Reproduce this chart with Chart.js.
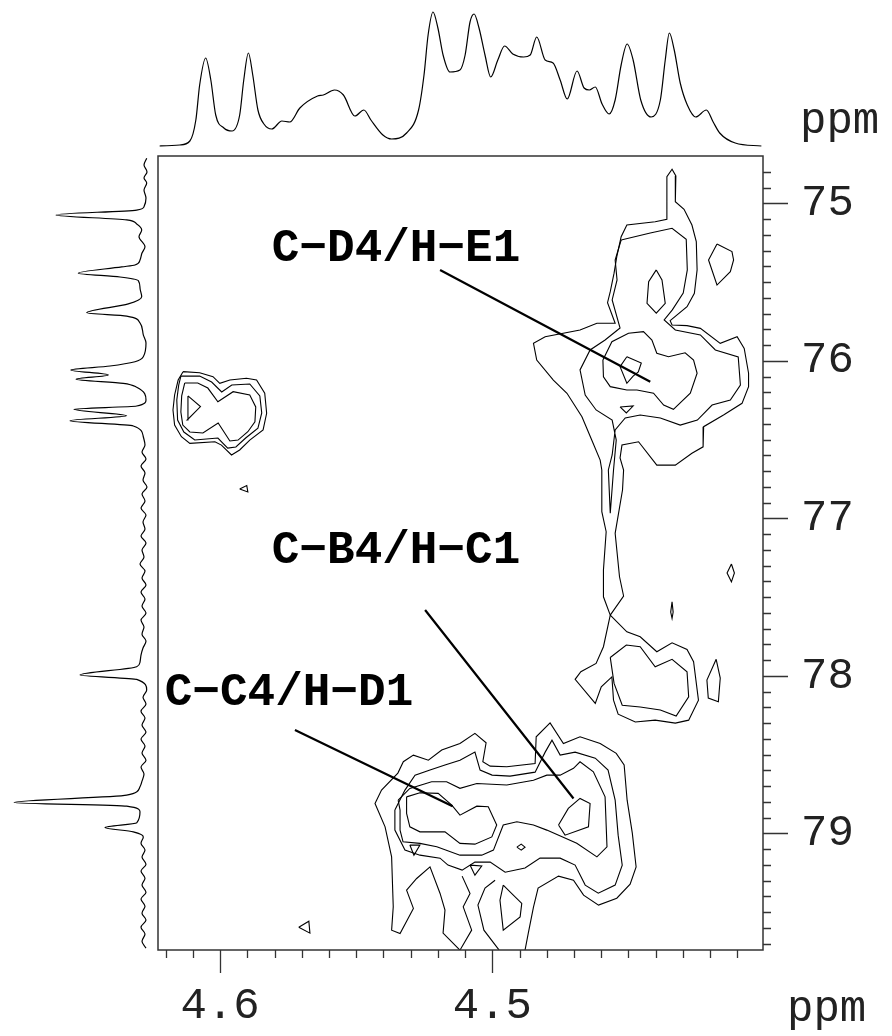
<!DOCTYPE html>
<html>
<head>
<meta charset="utf-8">
<script src="https://cdn.jsdelivr.net/npm/chart.js@4.4.0/dist/chart.umd.min.js"></script>
<style>
  html, body { margin: 0; padding: 0; background: #fff; }
  #wrap { position: relative; width: 892px; height: 1036px; }
  #wrap canvas { position: absolute; }
</style>
</head>
<body>
<div id="wrap">
  <canvas id="main" width="892" height="1036" style="left:0;top:0;width:892px;height:1036px"></canvas>
  <canvas id="top" width="605" height="156" style="left:158px;top:0;width:605px;height:156px"></canvas>
  <canvas id="side" width="158" height="794" style="left:0;top:156px;width:158px;height:794px"></canvas>
</div>
<script>
// 1H projection (top trace): chemical shift and intensity
const topPpm = [4.6222,4.6148,4.6111,4.6089,4.6075,4.6053,4.6034,4.6016,4.5986,4.5956,4.5928,4.5913,4.5896,4.5880,4.5861,4.5839,4.5810,4.5773,4.5744,4.5707,4.5642,4.5621,4.5580,4.5547,4.5505,4.5472,4.5446,4.5402,4.5370,4.5315,4.5271,4.5251,4.5236,4.5218,4.5200,4.5181,4.5156,4.5119,4.5100,4.5082,4.5067,4.5049,4.5027,4.5006,4.4980,4.4955,4.4925,4.4885,4.4861,4.4837,4.4806,4.4777,4.4751,4.4725,4.4689,4.4663,4.4644,4.4622,4.4597,4.4571,4.4549,4.4527,4.4505,4.4483,4.4455,4.4417,4.4383,4.4365,4.4350,4.4332,4.4310,4.4284,4.4253,4.4214,4.4189,4.4165,4.4108,4.4012];
const topIntensity = [0,1,5,26,61,88,66,31,18,15,31,66,93,71,36,22,17,25,24,38,50,51,56,51,30,36,26,11,7,13,36,71,111,134,118,91,74,76,91,124,132,118,91,69,86,100,92,89,91,109,86,83,66,47,75,58,56,59,42,32,46,81,102,86,46,29,46,86,113,96,63,41,29,36,24,13,3,0];

// 13C projection (left trace)
const sidePpm = [74.714,74.757,74.801,74.839,74.871,74.916,74.966,75.022,75.043,75.074,75.106,75.131,75.170,75.212,75.276,75.316,75.360,75.392,75.404,75.444,75.468,75.491,75.538,75.593,75.639,75.695,75.716,75.760,75.836,75.887,75.974,76.006,76.033,76.058,76.090,76.117,76.143,76.168,76.249,76.287,76.308,76.349,76.380,76.414,76.482,76.535,76.579,76.623,76.668,76.712,76.757,76.801,76.846,76.890,76.935,76.979,77.023,77.068,77.112,77.157,77.201,77.246,77.290,77.335,77.379,77.423,77.468,77.512,77.557,77.601,77.646,77.690,77.735,77.779,77.823,77.868,77.912,77.942,77.995,78.022,78.090,78.135,78.179,78.224,78.268,78.312,78.357,78.401,78.445,78.490,78.535,78.579,78.623,78.668,78.704,78.757,78.803,78.827,78.863,78.933,78.962,78.990,79.022,79.062,79.106,79.150,79.195,79.239,79.284,79.328,79.373,79.417,79.462,79.506,79.550,79.595,79.639,79.684,79.728];
const sideIntensity = [-0.7,2,-1,2,-0.7,2,0,2,9.3,90,19.3,9.3,4.3,7,1,4,6,11,24.3,67.7,26,7.7,6,4.3,17.7,59.3,19.3,6,2.7,0,2.7,11,36,75.3,37.7,70,22.7,9.3,0,9.3,72,19.3,76,12.7,2.7,1,4,0,5,1,3,-1,4,1,5,0,3,1,5,0,4,2,6,1,4,0,5,1,4,0,5,2,4,0,3,5,6,9.3,66,9.3,-0.7,3,0,5,1,4,0,5,1,4,0,5,2,4,6,19.3,132,19.3,6,9.3,41,12.7,2.7,5,1,4,0,5,1,4,0,5,1,4,0,5,1,4,0];

// axis labelling
const xTickLabels = ['4.6', '4.5'];
const yTickLabels = ['75', '76', '77', '78', '79'];
const unitLabel = 'ppm';

// cross-peak assignments: text anchor, pointer start, pointer end (ppm H, ppm C)
const peakNames = ['C\u2212D4/H\u2212E1', 'C\u2212B4/H\u2212C1', 'C\u2212C4/H\u2212D1'];
const peakNameAt = [[4.5810, 75.366], [4.5810, 77.284], [4.6203, 78.185]];
const pointerFrom = [[4.5192, 75.424], [4.5247, 77.582], [4.5725, 78.344]];
const pointerTo = [[4.4420, 76.133], [4.4702, 78.778], [4.5146, 78.827]];

// contour polygons, [1H ppm, 13C ppm]
const upperOuter = [[4.4567,77.614],[4.4592,77.498],[4.4592,77.328],[4.4582,77.085],[4.4598,76.958],[4.4598,76.693],[4.4604,76.630],[4.4635,76.503],[4.4671,76.355],[4.4726,76.206],[4.4776,76.122],[4.4837,75.995],[4.4849,75.889],[4.4806,75.847],[4.4678,75.804],[4.4616,75.762],[4.4549,75.762],[4.4577,75.631],[4.4567,75.561],[4.4553,75.444],[4.4543,75.339],[4.4527,75.212],[4.4506,75.138],[4.4402,75.117],[4.4359,75.102],[4.4359,74.831],[4.4340,74.784],[4.4326,74.827],[4.4328,74.990],[4.4296,75.038],[4.4267,75.138],[4.4251,75.244],[4.4248,75.423],[4.4258,75.571],[4.4285,75.657],[4.4347,75.745],[4.4340,75.773],[4.4285,75.777],[4.4236,75.794],[4.4163,75.889],[4.4101,75.847],[4.4075,75.921],[4.4059,76.079],[4.4059,76.164],[4.4083,76.270],[4.4151,76.344],[4.4224,76.418],[4.4226,76.546],[4.4267,76.587],[4.4328,76.662],[4.4396,76.662],[4.4463,76.514],[4.4524,76.535],[4.4531,76.617],[4.4518,76.693],[4.4522,76.820],[4.4549,77.095],[4.4533,77.371],[4.4518,77.493]];
const upperLevel2 = [[4.4527,75.233],[4.4420,75.189],[4.4340,75.159],[4.4288,75.229],[4.4284,75.423],[4.4299,75.570],[4.4339,75.677],[4.4369,75.741],[4.4328,75.804],[4.4236,75.836],[4.4181,75.931],[4.4097,75.976],[4.4089,76.154],[4.4126,76.249],[4.4193,76.281],[4.4247,76.376],[4.4310,76.408],[4.4383,76.363],[4.4457,76.344],[4.4512,76.363],[4.4549,76.439],[4.4560,76.598],[4.4574,76.693],[4.4567,76.968],[4.4555,76.693],[4.4545,76.503],[4.4560,76.376],[4.4619,76.312],[4.4659,76.217],[4.4678,76.058],[4.4641,75.931],[4.4586,75.868],[4.4531,75.792],[4.4560,75.614],[4.4542,75.487],[4.4549,75.360]];
const upperLevel3 = [[4.4594,75.995],[4.4561,75.879],[4.4500,75.825],[4.4445,75.815],[4.4414,75.868],[4.4396,75.952],[4.4353,75.974],[4.4292,75.949],[4.4261,75.995],[4.4248,76.079],[4.4273,76.206],[4.4335,76.308],[4.4371,76.281],[4.4408,76.206],[4.4469,76.185],[4.4506,76.185],[4.4567,76.164],[4.4592,76.101]];
const upperCore = [[4.4506,75.974],[4.4453,76.014],[4.4464,76.071],[4.4483,76.097],[4.4506,76.143],[4.4531,76.037]];
const upperTopCore = [[4.4398,75.423],[4.4377,75.487],[4.4365,75.635],[4.4398,75.698],[4.4432,75.635],[4.4426,75.498]];
const upperIsland = [[4.4175,75.258],[4.4120,75.307],[4.4114,75.360],[4.4126,75.434],[4.4175,75.519],[4.4206,75.360]];
const upperSpeck = [[4.4531,76.293],[4.4483,76.287],[4.4508,76.331]];
const lobe78Outer = [[4.4567,77.614],[4.4506,77.720],[4.4457,77.752],[4.4396,77.847],[4.4340,77.790],[4.4285,77.832],[4.4261,77.910],[4.4243,78.154],[4.4279,78.281],[4.4328,78.300],[4.4402,78.281],[4.4475,78.293],[4.4538,78.243],[4.4555,78.154],[4.4561,78.006],[4.4600,78.069],[4.4622,78.175],[4.4696,78.022],[4.4675,77.974],[4.4619,77.921],[4.4592,77.815]];
const lobe78Inner = [[4.4567,77.883],[4.4508,77.804],[4.4457,77.815],[4.4402,77.942],[4.4340,77.895],[4.4285,77.974],[4.4279,78.133],[4.4325,78.255],[4.4383,78.217],[4.4457,78.198],[4.4523,78.186],[4.4553,78.048]];
const island78 = [[4.4178,77.895],[4.4163,78.014],[4.4170,78.164],[4.4207,78.141],[4.4212,78.027]];
const needle78 = [[4.4340,77.530],[4.4336,77.595],[4.4340,77.635],[4.4345,77.595]];
const diamond77 = [[4.4122,77.290],[4.4111,77.347],[4.4122,77.403],[4.4138,77.347]];
const leftOuter = [[4.6136,76.069],[4.6075,76.076],[4.6026,76.101],[4.6001,76.143],[4.5964,76.122],[4.5903,76.111],[4.5866,76.122],[4.5836,76.206],[4.5829,76.333],[4.5842,76.439],[4.5891,76.503],[4.5928,76.566],[4.5958,76.598],[4.5995,76.535],[4.6019,76.514],[4.6111,76.524],[4.6142,76.482],[4.6167,76.408],[4.6173,76.312],[4.6167,76.217],[4.6154,76.122]];
const leftMiddle = [[4.6144,76.097],[4.6075,76.097],[4.6031,76.135],[4.5994,76.198],[4.5957,76.154],[4.5891,76.147],[4.5854,76.223],[4.5847,76.331],[4.5861,76.427],[4.5906,76.490],[4.5942,76.547],[4.5972,76.554],[4.6008,76.490],[4.6093,76.503],[4.6133,76.452],[4.6156,76.376],[4.6159,76.249],[4.6152,76.154]];
const leftInner = [[4.6130,76.141],[4.6082,76.141],[4.6045,76.173],[4.6008,76.260],[4.5952,76.196],[4.5891,76.217],[4.5869,76.293],[4.5872,76.387],[4.5898,76.450],[4.5934,76.503],[4.5964,76.509],[4.6007,76.395],[4.6063,76.458],[4.6111,76.452],[4.6137,76.408],[4.6144,76.325],[4.6141,76.223]];
const leftCore = [[4.6118,76.223],[4.6072,76.291],[4.6121,76.376]];
const leftSpeck = [[4.5928,76.814],[4.5902,76.792],[4.5898,76.833]];
const cornerSpeck = [[4.5711,79.595],[4.5674,79.557],[4.5670,79.633]];
const lowerOuter = [[4.4880,79.741],[4.4868,79.633],[4.4849,79.468],[4.4832,79.347],[4.4757,79.271],[4.4702,79.297],[4.4665,79.392],[4.4610,79.455],[4.4543,79.411],[4.4494,79.322],[4.4472,79.212],[4.4486,78.998],[4.4505,78.789],[4.4516,78.566],[4.4545,78.492],[4.4604,78.429],[4.4678,78.387],[4.4739,78.429],[4.4788,78.298],[4.4839,78.387],[4.4843,78.556],[4.4947,78.577],[4.5008,78.573],[4.5035,78.545],[4.5023,78.425],[4.5064,78.365],[4.5119,78.429],[4.5186,78.471],[4.5235,78.535],[4.5290,78.503],[4.5327,78.545],[4.5347,78.617],[4.5407,78.725],[4.5431,78.810],[4.5394,78.958],[4.5370,79.149],[4.5364,79.466],[4.5370,79.614],[4.5339,79.635],[4.5290,79.476],[4.5315,79.360],[4.5278,79.286],[4.5229,79.212],[4.5192,79.381],[4.5174,79.487],[4.5181,79.633],[4.5119,79.741]];
const lowerTailA = [[4.5119,79.741],[4.5076,79.614],[4.5107,79.466],[4.5082,79.381],[4.5111,79.271]];
const lowerTailB = [[4.4975,79.741],[4.5031,79.614],[4.5053,79.455],[4.5027,79.347],[4.4990,79.297]];
const lowerLoop = [[4.4960,79.328],[4.4972,79.424],[4.4960,79.614],[4.4898,79.530],[4.4892,79.444],[4.4923,79.392]];
const lowerLevel2 = [[4.5358,78.852],[4.5321,78.725],[4.5284,78.630],[4.5229,78.598],[4.5174,78.566],[4.5119,78.535],[4.5064,78.484],[4.5045,78.598],[4.5001,78.630],[4.4935,78.636],[4.4843,78.611],[4.4806,78.484],[4.4781,78.408],[4.4751,78.503],[4.4696,78.484],[4.4622,78.522],[4.4575,78.598],[4.4549,78.789],[4.4538,79.011],[4.4523,79.201],[4.4549,79.328],[4.4611,79.379],[4.4659,79.328],[4.4696,79.201],[4.4751,79.157],[4.4825,79.157],[4.4880,79.220],[4.4953,79.246],[4.5008,79.182],[4.5064,79.182],[4.5111,79.233],[4.5163,79.201],[4.5192,79.157],[4.5266,79.138],[4.5321,79.106],[4.5358,78.979]];
const lowerLevel3 = [[4.5346,78.789],[4.5303,78.714],[4.5223,78.672],[4.5168,78.672],[4.5119,78.714],[4.5057,78.683],[4.4947,78.693],[4.4849,78.662],[4.4800,78.630],[4.4751,78.630],[4.4702,78.587],[4.4678,78.545],[4.4629,78.609],[4.4586,78.768],[4.4579,79.085],[4.4616,79.149],[4.4690,79.063],[4.4800,78.979],[4.4849,78.947],[4.4910,78.926],[4.4960,78.947],[4.4996,79.106],[4.5039,79.138],[4.5119,79.138],[4.5204,79.085],[4.5266,79.063],[4.5328,79.053],[4.5339,78.979],[4.5339,78.852]];
const lowerCoreLeft = [[4.5315,78.768],[4.5266,78.742],[4.5199,78.746],[4.5149,78.820],[4.5119,78.884],[4.5057,78.827],[4.5015,78.831],[4.4984,78.947],[4.5002,79.022],[4.5064,79.068],[4.5119,79.063],[4.5174,78.990],[4.5266,78.990],[4.5303,78.958],[4.5315,78.873]];
const lowerCoreRight = [[4.4757,78.947],[4.4721,78.841],[4.4678,78.778],[4.4641,78.810],[4.4647,78.958],[4.4733,79.011]];
const lowerDiamond = [[4.4910,79.087],[4.4894,79.068],[4.4880,79.087],[4.4894,79.106]];
const lowerSpeckA = [[4.5303,79.074],[4.5266,79.074],[4.5288,79.138]];
const lowerSpeckB = [[4.5082,79.201],[4.5039,79.207],[4.5064,79.265]];

const closedContours = [upperOuter, upperLevel2, upperLevel3, upperCore, upperTopCore, upperIsland, upperSpeck,
  lobe78Outer, lobe78Inner, island78, needle78, diamond77,
  leftOuter, leftMiddle, leftInner, leftCore, leftSpeck, cornerSpeck,
  lowerLoop, lowerLevel2, lowerLevel3, lowerCoreLeft, lowerCoreRight, lowerDiamond, lowerSpeckA, lowerSpeckB];
const openContours = [lowerOuter, lowerTailA, lowerTailB];

const FONT = "'Liberation Mono', 'Courier New', monospace";
const X_MIN = 4.4006, X_MAX = 4.6228;
const Y_MIN = 74.70, Y_MAX = 79.74;

const onStep = (v, step) => Math.abs(v / step - Math.round(v / step)) < 1e-6;

function toPoints(path, closed) {
  const pts = closed ? path.concat([path[0]]) : path;
  return pts.map(([x, y]) => ({ x, y }));
}

const contourSets = closedContours.map(p => toPoints(p, true))
  .concat(openContours.map(p => toPoints(p, false)))
  .map(data => ({
    data,
    showLine: true,
    borderColor: '#000',
    borderWidth: 1.1,
    pointRadius: 0,
    tension: 0,
    fill: false
  }));

// frame, tick marks, unit labels and peak assignments
const framePlugin = {
  id: 'frame',
  afterDatasetsDraw(chart) {
    const { ctx, scales: { x, y } } = chart;
    ctx.save();
    ctx.strokeStyle = '#000';
    ctx.lineWidth = 2.2;
    ctx.beginPath();
    pointerFrom.forEach((p, i) => {
      ctx.moveTo(x.getPixelForValue(p[0]), y.getPixelForValue(p[1]));
      ctx.lineTo(x.getPixelForValue(pointerTo[i][0]), y.getPixelForValue(pointerTo[i][1]));
    });
    ctx.stroke();
    ctx.fillStyle = '#000';
    ctx.font = 'bold 46px ' + FONT;
    ctx.textAlign = 'left';
    ctx.textBaseline = 'alphabetic';
    peakNames.forEach((name, i) => {
      ctx.fillText(name, x.getPixelForValue(peakNameAt[i][0]), y.getPixelForValue(peakNameAt[i][1]));
    });
    ctx.restore();
  },
  afterDraw(chart) {
    const { ctx, chartArea: a, scales: { x, y } } = chart;
    ctx.save();
    ctx.strokeStyle = '#333';
    ctx.lineWidth = 1.5;
    ctx.strokeRect(a.left, a.top, a.right - a.left, a.bottom - a.top);
    ctx.lineWidth = 1.3;
    ctx.beginPath();
    x.ticks.forEach(t => {
      if (!onStep(t.value, 0.01)) return;
      const px = Math.round(x.getPixelForValue(t.value)) + 0.5;
      if (px < a.left + 2 || px > a.right - 2) return;
      ctx.moveTo(px, a.bottom);
      ctx.lineTo(px, a.bottom + (onStep(t.value, 0.1) ? 23 : 8));
    });
    y.ticks.forEach(t => {
      if (!onStep(t.value, 0.1)) return;
      const py = Math.round(y.getPixelForValue(t.value)) + 0.5;
      if (py < a.top + 2 || py > a.bottom - 2) return;
      ctx.moveTo(a.right, py);
      ctx.lineTo(a.right + (onStep(t.value, 1) ? 25 : 8), py);
    });
    ctx.stroke();
    ctx.fillStyle = '#222';
    ctx.font = '44px ' + FONT;
    ctx.textAlign = 'left';
    ctx.textBaseline = 'alphabetic';
    ctx.fillText(unitLabel, 800, 133);
    ctx.fillText(unitLabel, 787, 1021);
    ctx.restore();
  }
};

new Chart(document.getElementById('main'), {
  type: 'scatter',
  data: { datasets: contourSets },
  options: {
    responsive: false,
    animation: false,
    devicePixelRatio: 1,
    layout: { padding: { left: 158, top: 156, right: 0, bottom: 0 } },
    plugins: { legend: { display: false }, tooltip: { enabled: false } },
    scales: {
      x: {
        type: 'linear',
        reverse: true,
        min: X_MIN,
        max: X_MAX,
        grid: { display: false },
        border: { display: false },
        ticks: {
          stepSize: 0.01,
          maxTicksLimit: 100,
          autoSkip: false,
          includeBounds: false,
          maxRotation: 0,
          padding: 22,
          color: '#222',
          font: { family: FONT, size: 44 },
          callback: v => {
            const i = [4.6, 4.5].findIndex(m => Math.abs(v - m) < 1e-6);
            return i >= 0 ? xTickLabels[i] : '';
          }
        },
        afterFit: s => { s.height = 86; }
      },
      y: {
        type: 'linear',
        position: 'right',
        reverse: true,
        min: Y_MIN,
        max: Y_MAX,
        grid: { display: false },
        border: { display: false },
        ticks: {
          stepSize: 0.1,
          maxTicksLimit: 100,
          autoSkip: false,
          includeBounds: false,
          padding: 30,
          color: '#222',
          font: { family: FONT, size: 44 },
          callback: v => {
            const i = [75, 76, 77, 78, 79].findIndex(m => Math.abs(v - m) < 1e-6);
            return i >= 0 ? yTickLabels[i] : '';
          }
        },
        afterFit: s => { s.width = 129; }
      }
    }
  },
  plugins: [framePlugin]
});

// 1H projection above the map
new Chart(document.getElementById('top'), {
  type: 'scatter',
  data: {
    datasets: [{
      data: topPpm.map((x, i) => ({ x, y: topIntensity[i] })),
      showLine: true,
      borderColor: '#000',
      borderWidth: 1.2,
      pointRadius: 0,
      cubicInterpolationMode: 'monotone'
    }]
  },
  options: {
    responsive: false,
    animation: false,
    devicePixelRatio: 1,
    plugins: { legend: { display: false }, tooltip: { enabled: false } },
    scales: {
      x: { type: 'linear', reverse: true, min: X_MIN, max: X_MAX, display: false },
      y: { type: 'linear', min: -10, max: 146, display: false }
    }
  }
});

// 13C projection beside the map
new Chart(document.getElementById('side'), {
  type: 'scatter',
  data: {
    datasets: [{
      data: sidePpm.map((y, i) => ({ x: sideIntensity[i], y })),
      showLine: true,
      borderColor: '#000',
      borderWidth: 1.2,
      pointRadius: 0,
      indexAxis: 'y',
      cubicInterpolationMode: 'monotone'
    }]
  },
  options: {
    responsive: false,
    animation: false,
    devicePixelRatio: 1,
    indexAxis: 'y',
    plugins: { legend: { display: false }, tooltip: { enabled: false } },
    scales: {
      x: { type: 'linear', reverse: true, min: -12, max: 146, display: false },
      y: { type: 'linear', reverse: true, min: Y_MIN, max: Y_MAX, display: false }
    }
  }
});
</script>
</body>
</html>
